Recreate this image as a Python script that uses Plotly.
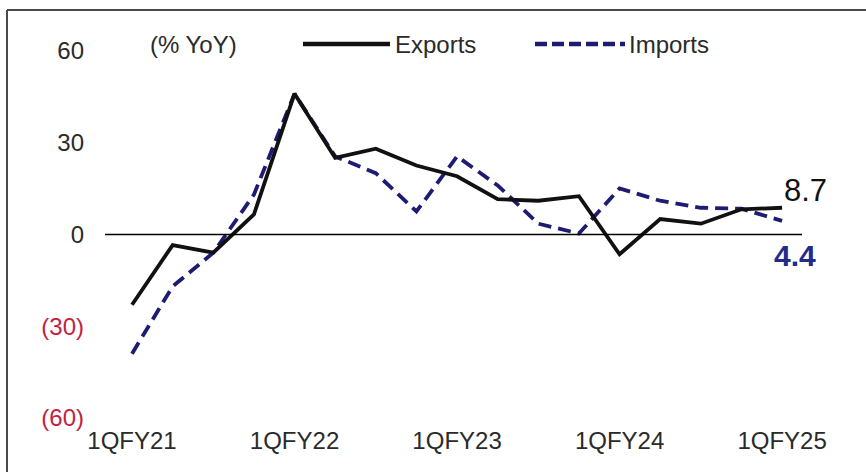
import plotly.graph_objects as go

# Quarterly trade growth, % YoY
quarters = [
    "1QFY21", "2QFY21", "3QFY21", "4QFY21",
    "1QFY22", "2QFY22", "3QFY22", "4QFY22",
    "1QFY23", "2QFY23", "3QFY23", "4QFY23",
    "1QFY24", "2QFY24", "3QFY24", "4QFY24",
    "1QFY25",
]
exports = [-23.0, -3.5, -6.0, 6.5, 46.0, 25.0, 28.0, 22.5, 19.0, 11.5, 11.0, 12.5,
           -6.5, 5.0, 3.5, 8.2, 8.7]
imports = [-39.0, -17.0, -6.0, 13.0, 46.0, 25.5, 20.0, 7.5, 25.5, 16.0, 3.5, 0.3,
           15.0, 11.0, 8.7, 8.4, 4.4]

x_tick_labels = ["1QFY21", "1QFY22", "1QFY23", "1QFY24", "1QFY25"]
y_tick_vals = [60, 30, 0, -30, -60]

W, H = 866, 472
ML, MR, MT, MB = 105, 64, 31, 48
FONT = "Liberation Sans, Arial, sans-serif"
TEXT_COLOR = "#2a2a2a"
EXP_COLOR = "#111111"
IMP_COLOR = "#1e1b72"
NEG_COLOR = "#c4213f"

xi = list(range(len(quarters)))
x_ticks = [quarters.index(q) for q in x_tick_labels]


def fmt_y(v):
    if v < 0:
        return f"<span style='color:{NEG_COLOR}'>({abs(v)})</span>"
    return str(v)


def px(xp):
    return (xp - ML) / (W - ML - MR)


def py(yp):
    return (H - MB - yp) / (H - MT - MB)


fig = go.Figure()
fig.add_trace(go.Scatter(x=xi, y=imports, mode="lines", name="Imports",
                         line=dict(color=IMP_COLOR, width=3.8, dash="13px,7px")))
fig.add_trace(go.Scatter(x=xi, y=exports, mode="lines", name="Exports",
                         line=dict(color=EXP_COLOR, width=3.8)))

shapes = [
    # zero line
    dict(type="line", xref="paper", yref="y", x0=0, x1=1, y0=0, y1=0,
         line=dict(color="#000000", width=1.5)),
    # outer frame (top and left edges)
    dict(type="line", xref="paper", yref="paper", x0=px(7), x1=px(870), y0=py(10), y1=py(10),
         line=dict(color="#4a4a4a", width=2)),
    dict(type="line", xref="paper", yref="paper", x0=px(7), x1=px(7), y0=py(10), y1=py(480),
         line=dict(color="#4a4a4a", width=2)),
    # legend keys
    dict(type="line", xref="paper", yref="paper", x0=px(303), x1=px(390), y0=py(44), y1=py(44),
         line=dict(color=EXP_COLOR, width=4.5)),
    dict(type="line", xref="paper", yref="paper", x0=px(535), x1=px(625), y0=py(44), y1=py(44),
         line=dict(color=IMP_COLOR, width=4.5, dash="12px,5px")),
]

annotations = [
    dict(text="(% YoY)", xref="paper", yref="paper", x=px(148), y=py(44),
         xanchor="left", yanchor="middle", showarrow=False,
         font=dict(family=FONT, size=24, color=TEXT_COLOR)),
    dict(text="Exports", xref="paper", yref="paper", x=px(393), y=py(44),
         xanchor="left", yanchor="middle", showarrow=False,
         font=dict(family=FONT, size=24, color=TEXT_COLOR)),
    dict(text="Imports", xref="paper", yref="paper", x=px(627), y=py(44),
         xanchor="left", yanchor="middle", showarrow=False,
         font=dict(family=FONT, size=24, color=TEXT_COLOR)),
    dict(text=f"{exports[-1]}", x=xi[-1], y=exports[-1], xanchor="left", yanchor="bottom",
         xshift=0, yshift=-2, showarrow=False,
         font=dict(family=FONT, size=31, color="#111111")),
    dict(text=f"<b>{imports[-1]}</b>", x=xi[-1], y=imports[-1], xanchor="center", yanchor="top",
         xshift=13, yshift=-16, showarrow=False,
         font=dict(family=FONT, size=30, color="#222a8c")),
]

fig.update_layout(
    width=W, height=H,
    margin=dict(l=ML, r=MR, t=MT, b=MB),
    paper_bgcolor="white", plot_bgcolor="white",
    showlegend=False,
    shapes=shapes,
    annotations=annotations,
    font=dict(family=FONT, size=24, color=TEXT_COLOR),
)
fig.update_xaxes(range=[-0.665, 16.49], tickvals=x_ticks, ticktext=x_tick_labels,
                 showgrid=False, zeroline=False, showline=False, ticks="",
                 tickfont=dict(family=FONT, size=24, color=TEXT_COLOR))
fig.update_yaxes(range=[-62, 66.5], tickvals=y_tick_vals,
                 ticktext=[fmt_y(v) for v in y_tick_vals],
                 showgrid=False, zeroline=False, showline=False, ticks="",
                 ticklabelstandoff=20,
                 tickfont=dict(family=FONT, size=24, color=TEXT_COLOR))

fig.write_html("out.html")
